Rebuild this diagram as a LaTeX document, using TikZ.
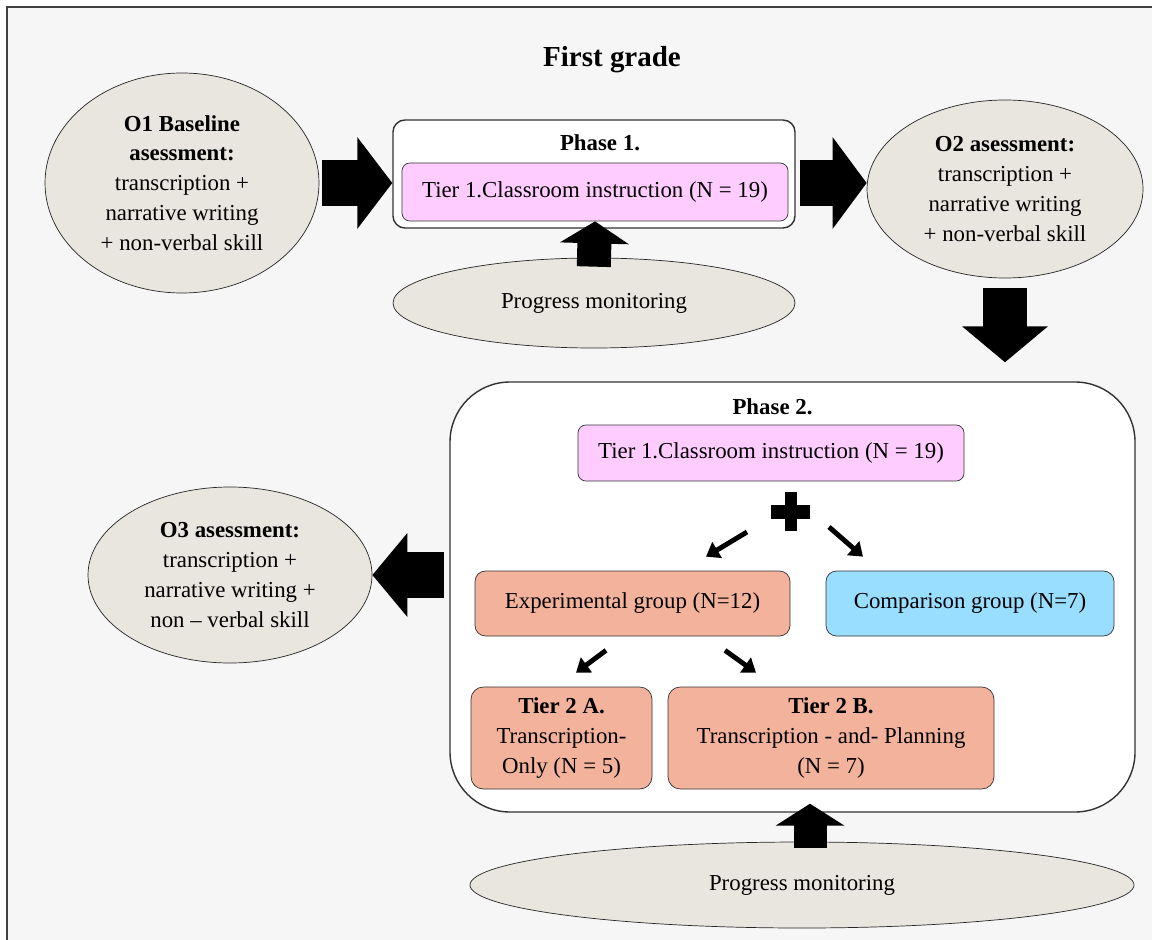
\documentclass[tikz,border=0pt]{standalone}
\usepackage{fontspec}
\setmainfont{Liberation Serif}
\usepackage{xcolor}
\usepackage{tikz}
\usetikzlibrary{shapes.geometric,arrows.meta}

\definecolor{bggray}{RGB}{246,246,246}
\definecolor{ovalfill}{RGB}{233,229,223}
\definecolor{tierpink}{RGB}{255,204,255}
\definecolor{salmon}{RGB}{243,178,156}
\definecolor{skyblue}{RGB}{153,221,255}

\begin{document}
\begin{tikzpicture}[
    font=\fontsize{13}{17}\selectfont,
    oval/.style={draw=black!85, ellipse, fill=ovalfill, inner sep=0pt, align=center},
    phasebox/.style={draw=black!80, fill=white, line width=0.8pt},
    tierbox/.style={draw=black!80, rounded corners=4.5pt, align=center, inner sep=0pt},
    lbl/.style={font=\fontsize{13}{17}\selectfont\bfseries},
    bigarr/.style n args={3}{line width=#1, -{Triangle[length=#2, width=#3]}},
    smallarr/.style={line width=2.8pt, -{Triangle[length=0.26cm, width=0.36cm]}}
  ]
    \useasboundingbox (0,0) rectangle (23.04,-18.8);
    \fill[white] (0,0) rectangle (23.04,-18.8);
    \fill[bggray] (0.14,-0.14) rectangle (23.04,-18.8);
    \draw[black!75, line width=1.2pt] (0.14,-18.8) -- (0.14,-0.14) -- (23.04,-0.14);

    \node[font=\fontsize{16.5}{20}\selectfont\bfseries] (title) at (12.24,-1.2) {First grade};

    % phase containers
    \node[phasebox, rounded corners=0.24cm, minimum width=8.04cm, minimum height=2.16cm] (ph1) at (11.88,-3.48) {};
    \node[lbl] (ph1lbl) at (12.0,-2.86) {Phase 1.};
    \node[phasebox, rounded corners=1.2cm, minimum width=13.7cm, minimum height=8.6cm] (ph2) at (15.85,-11.94) {};
    \node[lbl] (ph2lbl) at (15.45,-8.14) {Phase 2.};

    % assessments
    \node[oval, minimum width=5.48cm, minimum height=4.4cm] (o1) at (3.64,-3.66)
      {\textbf{O1 Baseline}\\\textbf{asessment:}\\transcription +\\narrative writing\\+ non-verbal skill};
    \node[oval, minimum width=5.52cm, minimum height=3.56cm] (o2) at (20.1,-3.78)
      {\textbf{O2 asessment:}\\transcription +\\narrative writing\\+ non-verbal skill};
    \node[oval, minimum width=5.68cm, minimum height=3.52cm] (o3) at (4.6,-11.5)
      {\textbf{O3 asessment:}\\transcription +\\narrative writing +\\non -- verbal skill};
    \node[oval, minimum width=8.04cm, minimum height=1.8cm] (pm1) at (11.88,-6.06) {Progress monitoring};
    \node[oval, minimum width=13.28cm, minimum height=1.72cm] (pm2) at (16.04,-17.7) {Progress monitoring};

    % tiers
    \node[tierbox, fill=tierpink, minimum width=7.72cm, minimum height=1.16cm] (t1a) at (11.9,-3.84)
      {Tier 1.Classroom instruction (N = 19)};
    \node[tierbox, fill=tierpink, minimum width=7.72cm, minimum height=1.12cm] (t1b) at (15.42,-9.06)
      {Tier 1.Classroom instruction (N = 19)};
    \node[minimum size=0.78cm, inner sep=0pt] (plus) at (15.82,-10.24) {};
    \fill (plus.north) ++(-0.12,0) rectangle ++(0.24,-0.78);
    \fill (plus.west) ++(0,0.14) rectangle ++(0.78,-0.28);
    \node[tierbox, fill=salmon, rounded corners=6pt, minimum width=6.3cm, minimum height=1.3cm] (exp) at (12.65,-12.07)
      {Experimental group (N=12)};
    \node[tierbox, fill=skyblue, rounded corners=6pt, minimum width=5.76cm, minimum height=1.3cm] (comp) at (19.4,-12.07)
      {Comparison group (N=7)};
    \node[tierbox, fill=salmon, rounded corners=7pt, minimum width=3.62cm, minimum height=2.04cm] (t2a) at (11.23,-14.76)
      {\textbf{Tier 2 A.}\\Transcription-\\Only (N = 5)};
    \node[tierbox, fill=salmon, rounded corners=7pt, minimum width=6.52cm, minimum height=2.04cm] (t2b) at (16.62,-14.76)
      {\textbf{Tier 2 B.}\\Transcription - and- Planning\\(N = 7)};

    % block arrows
    \draw[bigarr={0.92cm}{0.7cm}{1.8cm}, shorten <=0.06cm] (o1.east) -- (o1.east -| ph1.west);
    \draw[bigarr={0.92cm}{0.68cm}{1.8cm}, shorten <=0.08cm] (ph1.east |- o1.east) -- (o2.west |- o1.east);
    \draw[bigarr={0.88cm}{0.72cm}{1.68cm}, shorten <=0.2cm, shorten >=0.38cm] (o2.south) -- (o2.south |- ph2.north);
    \draw[bigarr={0.68cm}{0.44cm}{1.36cm}, shorten <=-0.18cm] (pm1.north) -- (t1a.south);
    \draw[bigarr={0.66cm}{0.44cm}{1.36cm}] ([xshift=0.16cm,yshift=-0.12cm]pm2.north) -- ([xshift=0.16cm,yshift=0.18cm]pm2.north |- ph2.south);
    \draw[bigarr={0.92cm}{0.7cm}{1.64cm}, shorten <=0.1cm] (ph2.west |- o3.east) -- (o3.east);

    % split arrows
    \draw[smallarr] ([shift={(-0.88,-0.4)}]plus.center) -- ([shift={(1.47,0.28)}]exp.north);
    \draw[smallarr] ([shift={(0.76,-0.3)}]plus.center) -- ([shift={(-2.14,0.28)}]comp.north);
    \draw[smallarr] ([shift={(-0.53,-0.28)}]exp.south) -- ([shift={(0.29,0.28)}]t2a.north);
    \draw[smallarr] ([shift={(1.85,-0.28)}]exp.south) -- ([shift={(-1.5,0.28)}]t2b.north);
\end{tikzpicture}
\end{document}
